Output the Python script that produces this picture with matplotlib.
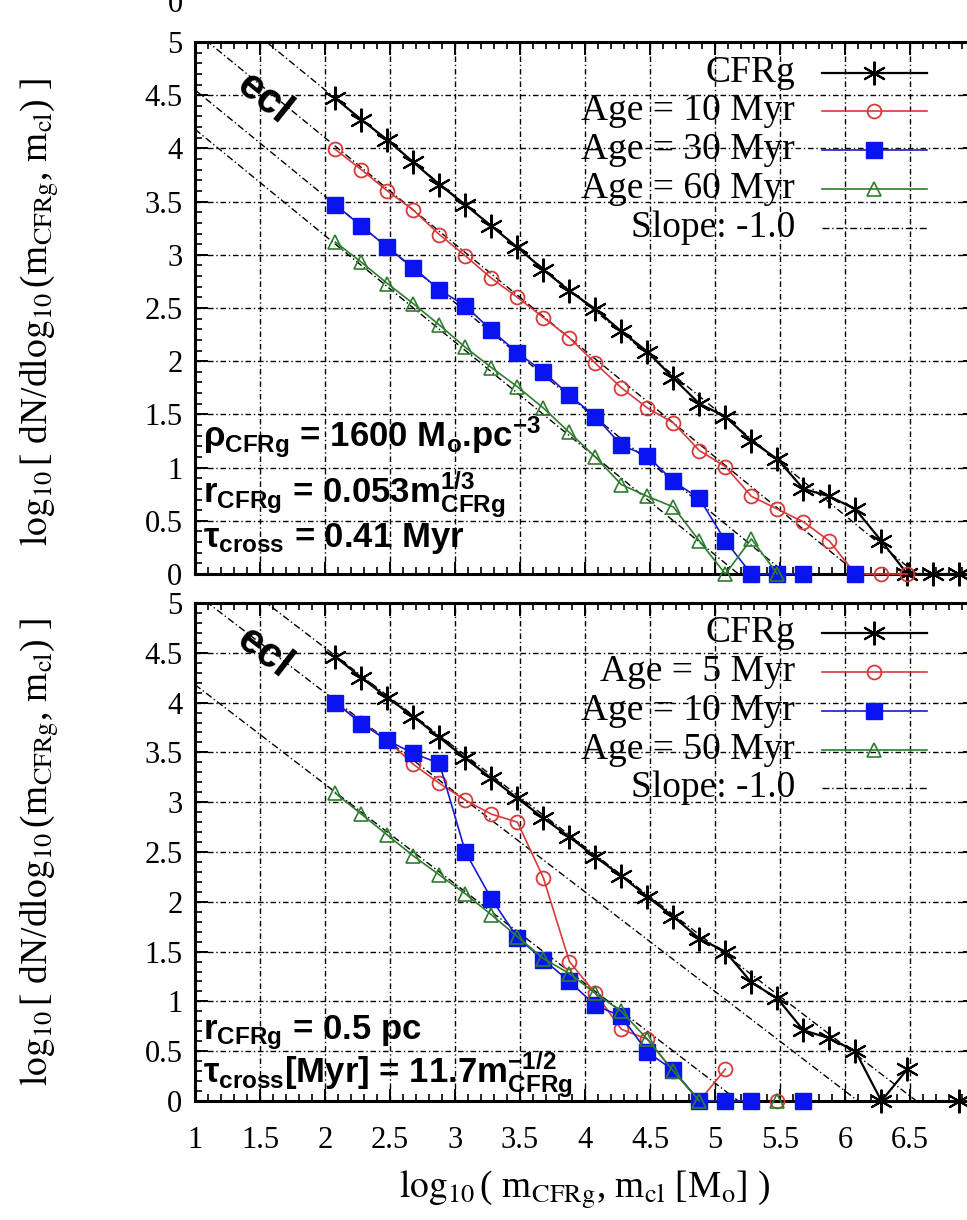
import numpy as np
import matplotlib
matplotlib.use('Agg')
import matplotlib.pyplot as plt
from matplotlib.ticker import MultipleLocator

plt.rcParams['mathtext.fontset'] = 'custom'
plt.rcParams['mathtext.rm'] = 'Liberation Sans:bold'
plt.rcParams['mathtext.it'] = 'Liberation Sans:bold'
plt.rcParams['mathtext.bf'] = 'Liberation Sans:bold'
plt.rcParams['mathtext.sf'] = 'Liberation Sans:bold'

nan = np.nan
# ---------------- data ----------------
log_m = [2.08, 2.28, 2.48, 2.68, 2.88, 3.08, 3.28, 3.48, 3.68, 3.88, 4.08, 4.28, 4.48,
         4.68, 4.88, 5.08, 5.28, 5.48, 5.68, 5.88, 6.08, 6.28, 6.48, 6.68, 6.88]

# top panel (rho = 1600 Mo/pc^3)
top_cfrg = [4.47, 4.27, 4.08, 3.87, 3.66, 3.47, 3.27, 3.07, 2.86, 2.66, 2.49, 2.28, 2.09,
            1.84, 1.60, 1.48, 1.25, 1.08, 0.80, 0.73, 0.61, 0.31, 0.0, 0.0, 0.0]
top_age10 = [3.99, 3.80, 3.60, 3.42, 3.19, 2.99, 2.78, 2.60, 2.41, 2.22, 1.98, 1.75, 1.56,
             1.42, 1.16, 1.01, 0.73, 0.61, 0.49, 0.31, 0.0, 0.0, 0.0, nan, nan]
top_age30 = [3.47, 3.27, 3.07, 2.88, 2.67, 2.52, 2.29, 2.08, 1.90, 1.68, 1.48, 1.21, 1.11,
             0.87, 0.71, 0.31, 0.0, 0.0, 0.0, nan, 0.0, nan, nan, nan, nan]
top_age60 = [3.12, 2.93, 2.73, 2.54, 2.34, 2.13, 1.94, 1.76, 1.56, 1.33, 1.10, 0.84, 0.73,
             0.63, 0.31, 0.0, 0.33, 0.0, nan, nan, nan, nan, nan, nan, nan]
top_slope_intercepts = [6.55, 6.10, 5.55, 5.18]
top_labels = ['CFRg', 'Age = 10 Myr', 'Age = 30 Myr', 'Age = 60 Myr', 'Slope: -1.0']

# bottom panel (r = 0.5 pc)
bot_cfrg = [4.46, 4.25, 4.05, 3.86, 3.65, 3.44, 3.24, 3.04, 2.84, 2.65, 2.45, 2.26, 2.05,
            1.85, 1.63, 1.50, 1.19, 1.03, 0.71, 0.63, 0.50, 0.0, 0.32, nan, 0.0]
bot_age5 = [4.00, 3.80, 3.62, 3.38, 3.19, 3.02, 2.88, 2.80, 2.24, 1.40, 1.08, 0.72, 0.62,
            0.30, 0.0, 0.32, nan, 0.0, nan, nan, nan, nan, nan, nan, nan]
bot_age10 = [4.00, 3.79, 3.62, 3.49, 3.39, 2.50, 2.03, 1.64, 1.42, 1.20, 0.96, 0.85, 0.49,
             0.31, 0.0, 0.0, 0.0, nan, 0.0, nan, nan, nan, nan, nan, nan]
bot_age50 = [3.09, 2.88, 2.67, 2.46, 2.27, 2.08, 1.87, 1.65, 1.43, 1.28, 1.08, 0.90, 0.62,
             0.30, 0.0, nan, nan, 0.0, nan, nan, nan, nan, nan, nan, nan]
bot_slope_intercepts = [6.55, 6.10, 5.18]
bot_labels = ['CFRg', 'Age = 5 Myr', 'Age = 10 Myr', 'Age = 50 Myr', 'Slope: -1.0']

slope = -1.0
slope_x = np.array([1.0, 7.0])
xticks = [1, 1.5, 2, 2.5, 3, 3.5, 4, 4.5, 5, 5.5, 6, 6.5]
xtick_labels = ['1', '1.5', '2', '2.5', '3', '3.5', '4', '4.5', '5', '5.5', '6', '6.5']
yticks = [0, 0.5, 1, 1.5, 2, 2.5, 3, 3.5, 4, 4.5, 5]
ytick_labels = ['0', '0.5', '1', '1.5', '2', '2.5', '3', '3.5', '4', '4.5', '5']

# ---------------- styles ----------------
C_RED = '#d83a3a'
C_BLUE = '#1a1ad0'
C_BLUEM = '#0a14f0'
C_GREEN = '#2e7d2e'
styles = [
    dict(color='black', marker=(6, 2, 0), ms=17, mfc='none', mec='black', mew=1.5, lw=1.6),
    dict(color=C_RED, marker='o', ms=10, mfc='none', mec=C_RED, mew=1.3, lw=1.2),
    dict(color=C_BLUE, marker='s', ms=11, mfc=C_BLUEM, mec=C_BLUEM, mew=1.0, lw=1.2),
    dict(color=C_GREEN, marker='^', ms=10, mfc='none', mec=C_GREEN, mew=1.2, lw=1.2),
]
SLOPE_LS = (0, (5, 2, 1, 2))
GRID_LS = (0, (4, 2, 1, 2))

SERIF = 'Liberation Serif'
SANS = 'Liberation Sans'

fig = plt.figure(figsize=(9.67, 12.2), dpi=100)
ax_top = fig.add_axes([195/967, 1 - 574/1220, 780/967, 532/1220])
ax_bot = fig.add_axes([195/967, 1 - 1101/1220, 780/967, 498/1220])


def setup(ax, show_x):
    ax.set_xlim(1, 7)
    ax.set_ylim(0, 5)
    ax.set_xticks(xticks)
    ax.set_yticks(yticks)
    ax.set_yticklabels(ytick_labels, fontfamily=SERIF, fontsize=22)
    if show_x:
        ax.set_xticklabels(xtick_labels, fontfamily=SERIF, fontsize=22)
    else:
        ax.set_xticklabels([])
    ax.xaxis.set_minor_locator(MultipleLocator(0.1))
    ax.yaxis.set_minor_locator(MultipleLocator(0.1))
    ax.tick_params(which='major', direction='in', top=True, right=True, length=9, width=1.4)
    ax.tick_params(which='minor', direction='in', top=True, right=True, length=5, width=1.2)
    ax.tick_params(axis='y', pad=9)
    ax.tick_params(axis='x', pad=18)
    ax.grid(True, which='major', color='black', linestyle=GRID_LS, linewidth=1.0)
    ax.set_axisbelow(True)
    for s in ax.spines.values():
        s.set_linewidth(2.2)


def draw_panel(ax, series, intercepts, labels, ypos):
    for icpt in intercepts:
        ax.plot(slope_x, icpt + slope * slope_x, color='black', lw=1.0, linestyle=SLOPE_LS, zorder=2)
    for yv, st in zip(series, styles):
        ax.plot(log_m, yv, clip_on=False, zorder=4, **st)
    # legend (gnuplot style: right-aligned text, sample after)
    tx = 0.769
    for i, (lab, yp) in enumerate(zip(labels, ypos)):
        ax.text(tx, yp, lab, transform=ax.transAxes, ha='right', va='center',
                fontfamily=SERIF, fontsize=27, zorder=6)
        if i < 4:
            st = styles[i]
            ax.plot([0.804, 0.938], [yp, yp], transform=ax.transAxes, color=st['color'],
                    lw=st['lw'], zorder=6)
            ax.plot([0.871], [yp], transform=ax.transAxes, linestyle='none', marker=st['marker'],
                    ms=st['ms'], mfc=st['mfc'], mec=st['mec'], mew=st['mew'], zorder=6)
        else:
            ax.plot([0.804, 0.938], [yp, yp], transform=ax.transAxes, color='black', lw=1.0,
                    linestyle=SLOPE_LS, zorder=6)


setup(ax_top, False)
setup(ax_bot, True)

draw_panel(ax_top, [top_cfrg, top_age10, top_age30, top_age60], top_slope_intercepts, top_labels,
           [0.942, 0.870, 0.797, 0.724, 0.650])
draw_panel(ax_bot, [bot_cfrg, bot_age5, bot_age10, bot_age50], bot_slope_intercepts, bot_labels,
           [0.940, 0.861, 0.783, 0.705, 0.629])

# "ecl" labels along the line
ax_top.text(1.53, 4.47, 'ecl', rotation=-39, ha='center', va='center', fontfamily=SANS,
            fontweight='bold', fontsize=30, zorder=5)
ax_bot.text(1.53, 4.50, 'ecl', rotation=-37.5, ha='center', va='center', fontfamily=SANS,
            fontweight='bold', fontsize=30, zorder=5)

# annotations
ann = dict(fontfamily=SANS, fontweight='bold', fontsize=25, math_fontfamily='custom',
           ha='left', va='baseline', zorder=5)
ax_top.text(1.06, 1.19, r'$\rho_{CFRg}$ = 1600 M$_{o}$.pc$^{-3}$', **ann)
ax_top.text(1.06, 0.66, r'r$_{CFRg}$ = 0.053m$^{1/3}_{CFRg}$', **ann)
ax_top.text(1.06, 0.25, r'$\tau_{cross}$ = 0.41 Myr', **ann)
ax_bot.text(1.06, 0.62, r'r$_{CFRg}$ = 0.5 pc', **ann)
ax_bot.text(1.06, 0.18, r'$\tau_{cross}$[Myr] = 11.7m$^{-1/2}_{CFRg}$', **ann)

# axis labels
ylab = r'$\log_{10}$[ dN/d$\log_{10}$(m$_{\rm CFRg}$, m$_{\rm cl}$) ]'
fig.text(40/967, 1 - 312/1220, ylab, rotation=90, ha='center', va='center',
         fontfamily=SERIF, fontsize=27, math_fontfamily='stix')
fig.text(40/967, 1 - 852/1220, ylab, rotation=90, ha='center', va='center',
         fontfamily=SERIF, fontsize=27, math_fontfamily='stix')
fig.text(585/967, 1 - 1190/1220, r'$\log_{10}$( m$_{\rm CFRg}$, m$_{\rm cl}$ [M$_{\rm o}$] )',
         ha='center', va='center', fontfamily=SERIF, fontsize=27, math_fontfamily='stix')

# fragment of the panel above (cut off at the top edge)
fig.text(183/967, 1 - 12/1220, '0', ha='right', va='baseline', fontfamily=SERIF, fontsize=22)

fig.savefig('out.png', dpi=100)
